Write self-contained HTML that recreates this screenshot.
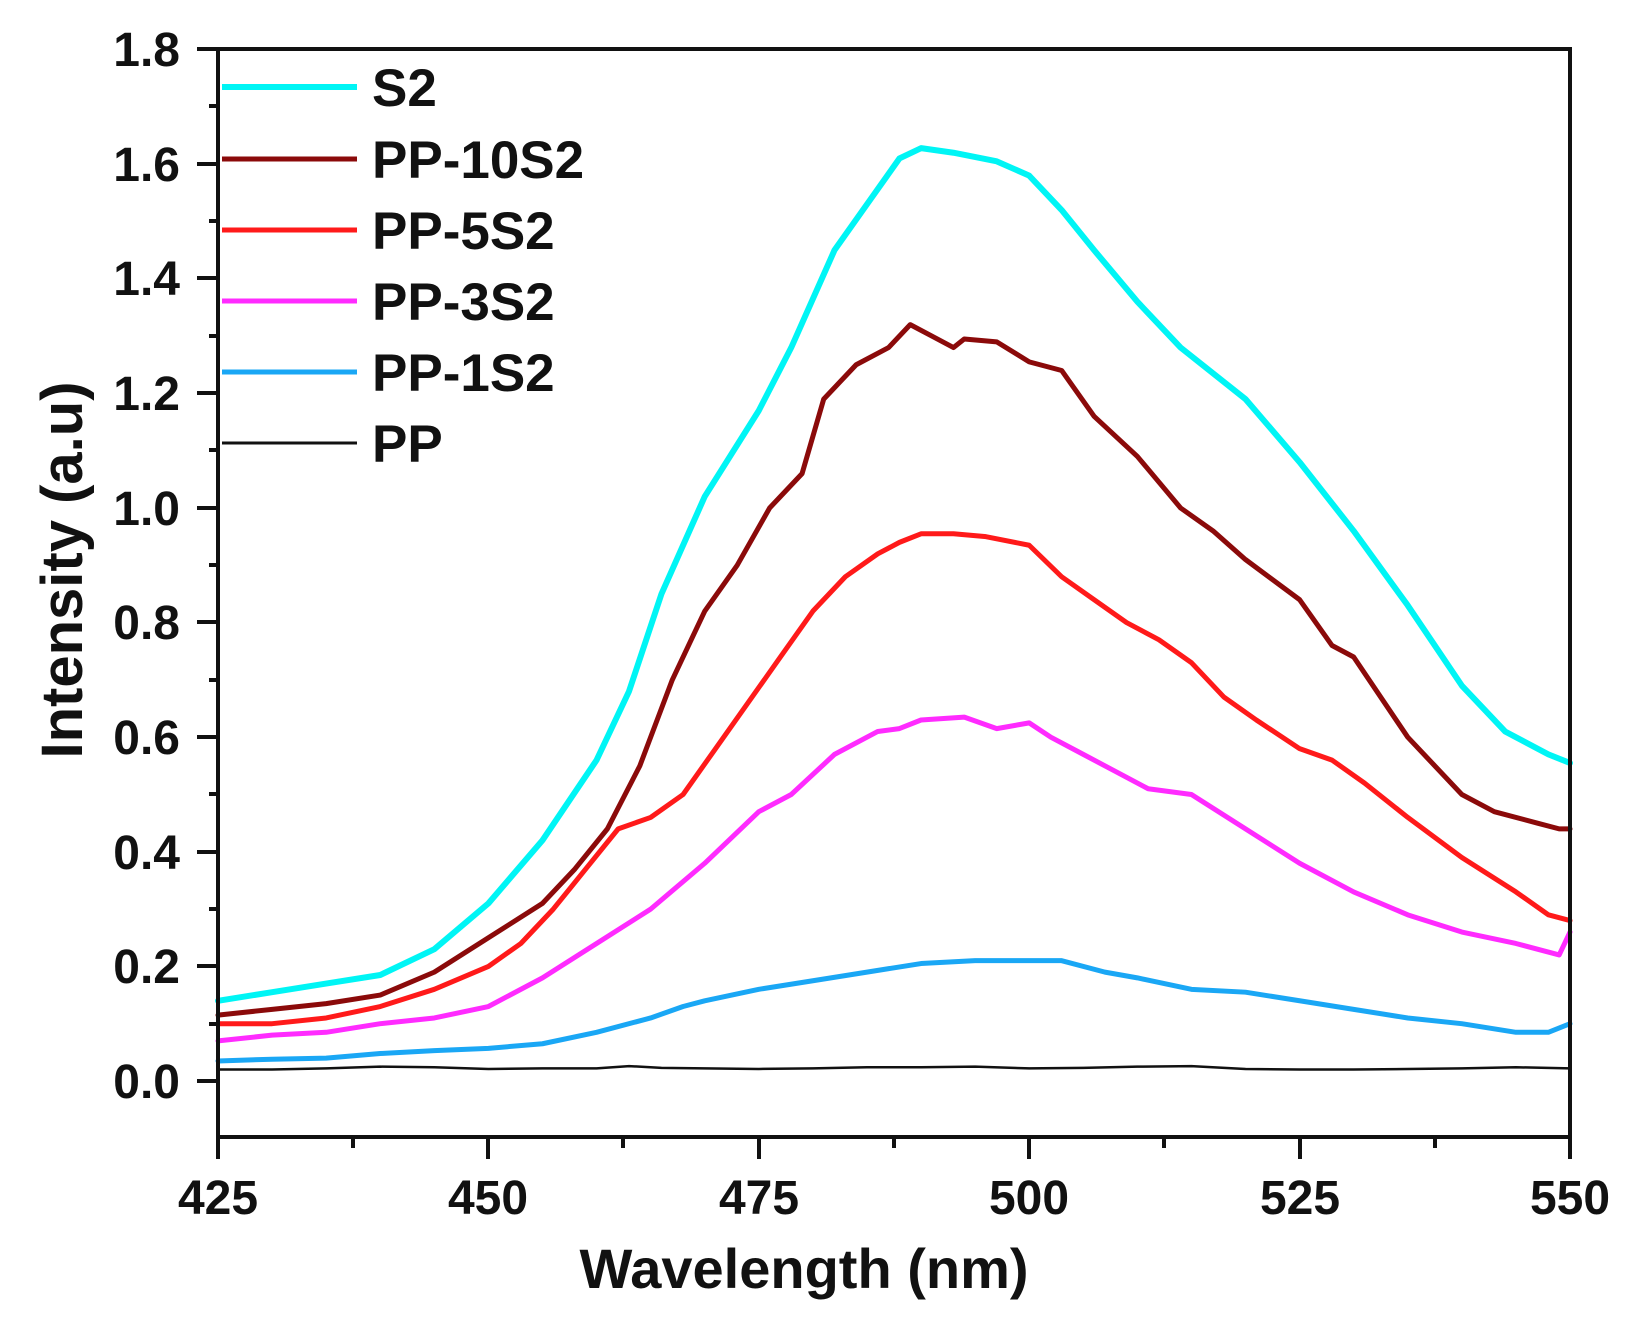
<!DOCTYPE html>
<html><head><meta charset="utf-8"><style>
html,body{margin:0;padding:0;background:#fff;}
svg{display:block;font-family:"Liberation Sans",Arial,sans-serif;font-weight:bold;}
</style></head><body>
<svg width="1627" height="1326" viewBox="0 0 1627 1326" xmlns="http://www.w3.org/2000/svg">
<rect width="1627" height="1326" fill="#fff"/>
<g transform="translate(218,1081) scale(10.816,-573) translate(-425,0)" fill="none" stroke-linejoin="round" stroke-linecap="round">
<polyline vector-effect="non-scaling-stroke" stroke="#111" stroke-width="2.5" points="425,0.02 430,0.02 435,0.022 440,0.025 445,0.024 450,0.021 455,0.022 460,0.022 463,0.026 466,0.023 470,0.022 475,0.021 480,0.022 485,0.024 490,0.024 495,0.025 500,0.022 505,0.023 510,0.025 515,0.026 520,0.021 525,0.02 530,0.02 535,0.021 540,0.022 545,0.024 550,0.022"/>
<polyline vector-effect="non-scaling-stroke" stroke="#1aa7f5" stroke-width="5" points="425,0.035 430,0.038 435,0.04 440,0.048 445,0.053 450,0.057 455,0.065 460,0.085 465,0.11 468,0.13 470,0.14 475,0.16 480,0.175 485,0.19 490,0.205 495,0.21 500,0.21 503,0.21 507,0.19 510,0.18 515,0.16 520,0.155 525,0.14 530,0.125 535,0.11 540,0.1 545,0.085 548,0.085 550,0.1"/>
<polyline vector-effect="non-scaling-stroke" stroke="#ff2bff" stroke-width="5" points="425,0.07 430,0.08 435,0.085 440,0.1 445,0.11 450,0.13 455,0.18 460,0.24 465,0.3 470,0.38 475,0.47 478,0.5 482,0.57 486,0.61 488,0.615 490,0.63 494,0.635 497,0.615 500,0.625 502,0.6 505,0.57 508,0.54 511,0.51 515,0.5 520,0.44 525,0.38 530,0.33 535,0.29 540,0.26 545,0.24 549,0.22 550,0.26"/>
<polyline vector-effect="non-scaling-stroke" stroke="#ff1a1a" stroke-width="5" points="425,0.1 430,0.1 435,0.11 440,0.13 445,0.16 450,0.2 453,0.24 456,0.3 459,0.37 462,0.44 465,0.46 468,0.5 471,0.58 474,0.66 477,0.74 480,0.82 483,0.88 486,0.92 488,0.94 490,0.955 493,0.955 496,0.95 500,0.935 503,0.88 506,0.84 509,0.8 512,0.77 515,0.73 518,0.67 521,0.63 525,0.58 528,0.56 531,0.52 535,0.46 540,0.39 545,0.33 548,0.29 550,0.28"/>
<polyline vector-effect="non-scaling-stroke" stroke="#8b0a0a" stroke-width="5" points="425,0.115 430,0.125 435,0.135 440,0.15 445,0.19 450,0.25 455,0.31 458,0.37 461,0.44 464,0.55 467,0.7 470,0.82 473,0.9 476,1.0 479,1.06 481,1.19 484,1.25 487,1.28 489,1.32 491,1.3 493,1.28 494,1.295 497,1.29 500,1.255 503,1.24 506,1.16 510,1.09 514,1.0 517,0.96 520,0.91 525,0.84 528,0.76 530,0.74 535,0.6 540,0.5 543,0.47 547,0.45 549,0.44 550,0.44"/>
<polyline vector-effect="non-scaling-stroke" stroke="#00f5f5" stroke-width="6" points="425,0.14 430,0.155 435,0.17 440,0.185 445,0.23 450,0.31 455,0.42 460,0.56 463,0.68 466,0.85 470,1.02 475,1.17 478,1.28 482,1.45 485,1.53 488,1.61 490,1.628 493,1.62 497,1.605 500,1.58 503,1.52 506,1.45 510,1.36 514,1.28 520,1.19 525,1.08 530,0.96 535,0.83 540,0.69 544,0.61 548,0.57 550,0.555"/>
</g>
<g stroke="#111" stroke-width="4" fill="none">
<rect x="218" y="49" width="1352" height="1088"/>
<path d="M218 49h-21M218 164h-21M218 278h-21M218 393h-21M218 508h-21M218 622h-21M218 737h-21M218 852h-21M218 966h-21M218 1081h-21"/>
<path d="M218 106h-9M218 221h-9M218 336h-9M218 450h-9M218 565h-9M218 680h-9M218 794h-9M218 909h-9M218 1024h-9"/>
<path d="M218 1137v22M488 1137v22M759 1137v22M1029 1137v22M1300 1137v22M1570 1137v22"/>
<path d="M353 1137v11M623 1137v11M894 1137v11M1164 1137v11M1435 1137v11"/>
</g>
<g font-size="48" text-anchor="end" fill="#111">
<text x="180" y="66">1.8</text><text x="180" y="181">1.6</text><text x="180" y="295">1.4</text><text x="180" y="410">1.2</text><text x="180" y="525">1.0</text><text x="180" y="639">0.8</text><text x="180" y="754">0.6</text><text x="180" y="869">0.4</text><text x="180" y="983">0.2</text><text x="180" y="1098">0.0</text>
</g>
<g font-size="48" text-anchor="middle" fill="#111">
<text x="218" y="1214">425</text><text x="488" y="1214">450</text><text x="759" y="1214">475</text><text x="1029" y="1214">500</text><text x="1300" y="1214">525</text><text x="1570" y="1214">550</text>
</g>
<text x="804" y="1288" font-size="56" text-anchor="middle" fill="#111">Wavelength (nm)</text>
<text transform="translate(82,570) rotate(-90)" font-size="58" text-anchor="middle" fill="#111">Intensity (a.u)</text>
<g stroke-width="5">
<line x1="222" y1="87" x2="357" y2="87" stroke="#00f5f5" stroke-width="6"/>
<line x1="222" y1="159" x2="357" y2="159" stroke="#8b0a0a"/>
<line x1="222" y1="230" x2="357" y2="230" stroke="#ff1a1a"/>
<line x1="222" y1="301" x2="357" y2="301" stroke="#ff2bff"/>
<line x1="222" y1="372" x2="357" y2="372" stroke="#1aa7f5"/>
<line x1="222" y1="443" x2="357" y2="443" stroke="#111" stroke-width="3"/>
</g>
<g font-size="53" fill="#111">
<text x="372" y="106">S2</text><text x="372" y="178">PP-10S2</text><text x="372" y="249">PP-5S2</text><text x="372" y="320">PP-3S2</text><text x="372" y="391">PP-1S2</text><text x="372" y="462">PP</text>
</g>
</svg>
</body></html>
